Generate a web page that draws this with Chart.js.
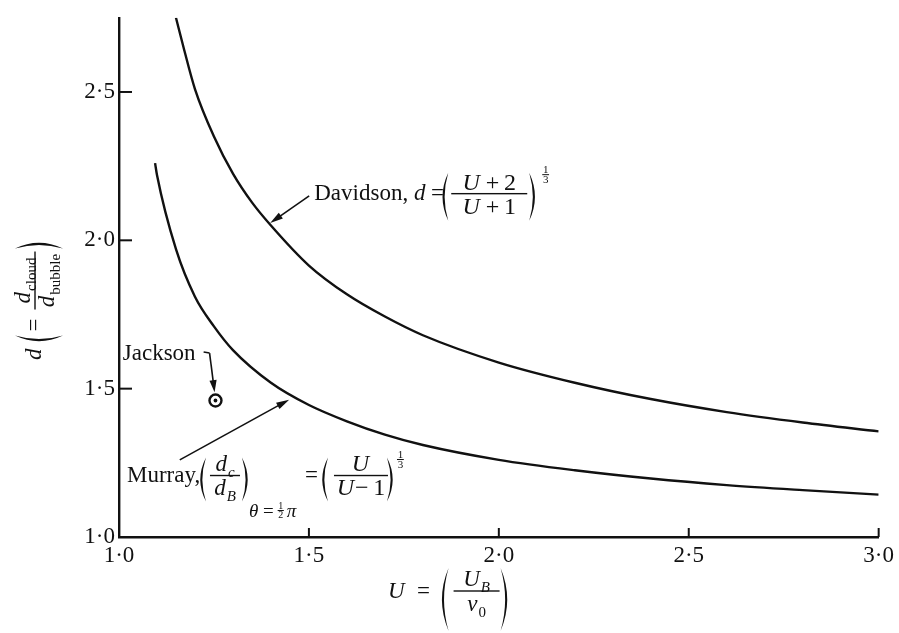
<!DOCTYPE html>
<html>
<head>
<meta charset="utf-8">
<script src="https://cdn.jsdelivr.net/npm/chart.js@4"></script>
<style>
  html, body { margin: 0; padding: 0; background: #fff; }
  #wrap { width: 899px; height: 633px; }
</style>
</head>
<body>
<div id="wrap"><canvas id="c" width="899" height="633"></canvas></div>
<script>
// Cloud-to-bubble diameter ratio d against relative bubble velocity U
const davidsonU = [1.15, 1.17, 1.2, 1.25, 1.3, 1.35, 1.4, 1.5, 1.6, 1.7, 1.8, 2.0, 2.2, 2.4, 2.6, 2.8, 3.0];
const davidsonD = [2.75, 2.65, 2.51, 2.35, 2.225, 2.128, 2.05, 1.915, 1.818, 1.743, 1.68, 1.588, 1.52, 1.465, 1.421, 1.386, 1.356];
const murrayU = [1.095, 1.1, 1.15, 1.2, 1.25, 1.3, 1.4, 1.5, 1.6, 1.7, 1.8, 2.0, 2.2, 2.4, 2.6, 2.8, 3.0];
const murrayD = [2.26, 2.22, 1.97, 1.81, 1.71, 1.63, 1.52, 1.445, 1.39, 1.345, 1.31, 1.26, 1.225, 1.197, 1.175, 1.158, 1.143];
const jacksonU = [1.254];
const jacksonD = [1.46];
const xTickValues = [1.0, 1.5, 2.0, 2.5, 3.0];
const yTickValues = [1.0, 1.5, 2.0, 2.5];

const INK = '#111';
const SERIF = '"Liberation Serif", "DejaVu Serif", "Times New Roman", serif';
const font = (size, italic) => (italic ? 'italic ' : '') + size + 'px ' + SERIF;
const fmt = v => v.toFixed(1).replace('.', '\u00B7');

const pairs = (xs, ys) => xs.map((x, i) => ({ x: x, y: ys[i] }));

// text runs: [text, style]; style 'r' roman, 'i' italic, 'sub' roman subscript, 'subi' italic subscript
function runs(ctx, x, y, parts, size, dry) {
  for (const [t, st] of parts) {
    let fs = size, dy = 0, it = (st === 'i' || st === 'subi');
    if (st === 'sub' || st === 'subi') { fs = Math.round(size * 0.64); dy = size * 0.28; }
    ctx.font = font(fs, it);
    if (!dry) ctx.fillText(t, x, y + dy);
    x += ctx.measureText(t).width + (st === 'i' ? 1 : 0);
  }
  return x;
}
function runsWidth(ctx, parts, size) { return runs(ctx, 0, 0, parts, size, true); }

// tall tapered parenthesis
function paren(ctx, x, top, bot, open, w) {
  w = w || 7;
  const mid = (top + bot) / 2;
  const s = open ? 1 : -1;
  const x0 = open ? x + w : x;
  const xc = x0 - s * w * 1.9;
  ctx.beginPath();
  ctx.moveTo(x0, top);
  ctx.quadraticCurveTo(xc, mid, x0, bot);
  ctx.quadraticCurveTo(xc + s * 4.2, mid, x0, top);
  ctx.fill();
}

// fraction centred at cx with its bar at barY
function fraction(ctx, cx, barY, num, den, size, barW, gapN, gapD) {
  const wn = runsWidth(ctx, num, size), wd = runsWidth(ctx, den, size);
  const bw = barW || Math.max(wn, wd) + 6;
  runs(ctx, cx - wn / 2, barY - (gapN || 5), num, size);
  runs(ctx, cx - wd / 2, barY + (gapD || size * 0.78), den, size);
  ctx.fillRect(cx - bw / 2, barY - 0.7, bw, 1.4);
  return bw;
}

// small stacked fraction such as the one-third exponent
function smallFrac(ctx, x, y, a, b, size) {
  size = size || 11;
  ctx.font = font(size, false);
  ctx.textAlign = 'center';
  const w = size * 0.62;
  ctx.fillText(a, x + w / 2, y);
  ctx.fillText(b, x + w / 2, y + size * 0.98);
  ctx.fillRect(x, y + 1.5, w, 1);
  ctx.textAlign = 'left';
}

function arrow(ctx, x1, y1, x2, y2, len, half) {
  const a = Math.atan2(y2 - y1, x2 - x1);
  ctx.beginPath();
  ctx.moveTo(x1, y1);
  ctx.lineTo(x2 - Math.cos(a) * len * 0.6, y2 - Math.sin(a) * len * 0.6);
  ctx.stroke();
  ctx.beginPath();
  ctx.moveTo(x2, y2);
  ctx.lineTo(x2 - Math.cos(a) * len - Math.sin(a) * half, y2 - Math.sin(a) * len + Math.cos(a) * half);
  ctx.lineTo(x2 - Math.cos(a) * len + Math.sin(a) * half, y2 - Math.sin(a) * len - Math.cos(a) * half);
  ctx.closePath();
  ctx.fill();
}

const decorations = {
  id: 'decorations',
  afterDraw(chart) {
    const ctx = chart.ctx;
    const xs = chart.scales.x, ys = chart.scales.y;
    const P = (u, d) => ({ x: xs.getPixelForValue(u), y: ys.getPixelForValue(d) });
    const area = chart.chartArea;
    ctx.save();
    ctx.fillStyle = INK;
    ctx.strokeStyle = INK;
    ctx.textBaseline = 'alphabetic';
    ctx.textAlign = 'left';

    // inward tick marks
    ctx.lineWidth = 2;
    xTickValues.forEach(v => {
      const px = xs.getPixelForValue(v);
      ctx.beginPath(); ctx.moveTo(px, area.bottom); ctx.lineTo(px, area.bottom - 9); ctx.stroke();
    });
    yTickValues.forEach(v => {
      const py = ys.getPixelForValue(v);
      ctx.beginPath(); ctx.moveTo(area.left, py); ctx.lineTo(area.left + 13, py); ctx.stroke();
    });

    // Jackson bullseye centre dot
    const jm = chart.getDatasetMeta(2).data[0];
    ctx.beginPath(); ctx.arc(jm.x, jm.y, 1.9, 0, Math.PI * 2); ctx.fill();

    // leader arrows
    ctx.lineWidth = 1.6;
    let t = P(1.5007, 2.15), h = P(1.398, 2.058);
    arrow(ctx, t.x, t.y, h.x, h.y, 13, 3.6);
    t = P(1.160, 1.26); h = P(1.448, 1.463);
    arrow(ctx, t.x, t.y, h.x, h.y, 13, 3.6);
    const j1 = P(1.2228, 1.6233), j2 = P(1.2385, 1.62), j3 = P(1.2516, 1.488);
    ctx.beginPath(); ctx.moveTo(j1.x, j1.y); ctx.lineTo(j2.x, j2.y); ctx.stroke();
    arrow(ctx, j2.x, j2.y, j3.x, j3.y, 12, 3.6);

    // Jackson label
    let a = P(1.010, 1.597);
    runs(ctx, a.x, a.y, [['Jackson', 'r']], 23);

    // Davidson label
    a = P(1.514, 2.137);
    let ax = a.x, ay = a.y;
    runs(ctx, ax, ay, [['Davidson, ', 'r'], ['d', 'i'], ['\u2009=', 'r']], 23);
    paren(ctx, ax + 128, ay - 27, ay + 21, true, 6);
    fraction(ctx, ax + 175, ay - 6, [['U', 'i'], ['\u2009+\u20092', 'r']], [['U', 'i'], ['\u2009+\u20091', 'r']], 24, 76, 4, 20);
    paren(ctx, ax + 215, ay - 27, ay + 21, false, 6);
    smallFrac(ctx, ax + 228, ay - 27, '1', '3', 11);

    // Murray label
    a = P(1.021, 1.187);
    ax = a.x; ay = a.y;
    runs(ctx, ax, ay, [['Murray,', 'r']], 23);
    paren(ctx, ax + 73, ay - 24, ay + 20, true, 6);
    fraction(ctx, ax + 98, ay - 6, [['d', 'i'], ['c', 'subi']], [['d', 'i'], ['B', 'subi']], 23, 30, 5, 19);
    paren(ctx, ax + 115, ay - 24, ay + 20, false, 6);
    // subscript θ = ½π
    let sx = runs(ctx, ax + 122, ay + 35, [['\u03B8', 'i'], ['\u2009=\u2009', 'r']], 19);
    smallFrac(ctx, sx, ay + 27, '1', '2', 10);
    runs(ctx, sx + 9, ay + 35, [['\u03C0', 'i']], 19);
    runs(ctx, ax + 178, ay, [['=', 'r']], 23);
    paren(ctx, ax + 195, ay - 24, ay + 20, true, 6);
    fraction(ctx, ax + 234, ay - 6, [['U', 'i']], [['U', 'i'], ['\u2212\u20091', 'r']], 24, 54, 5, 19);
    paren(ctx, ax + 260, ay - 24, ay + 20, false, 6);
    smallFrac(ctx, ax + 270, ay - 24, '1', '3', 11);

    // x-axis title: U = (U_B / v_0)
    const xb = area.bottom;
    let x = runs(ctx, 388, xb + 61, [['U', 'i'], ['\u2002=\u2002', 'r']], 23);
    paren(ctx, x, xb + 31, xb + 94, true, 7);
    fraction(ctx, x + 35, xb + 54, [['U', 'i'], ['B', 'subi']], [['v', 'i'], ['0', 'sub']], 23, 46, 5, 20);
    paren(ctx, x + 59, xb + 31, xb + 94, false, 7);

    // y-axis title, rotated: d (= d_cloud / d_bubble)
    ctx.save();
    ctx.translate(41, 360);
    ctx.rotate(-Math.PI / 2);
    x = runs(ctx, 0, 0, [['d', 'i']], 23);
    paren(ctx, x + 6, -26, 22, true, 6);
    x = runs(ctx, x + 16, 0, [['=', 'r']], 23);
    fraction(ctx, x + 38, -6, [['d', 'i'], ['cloud', 'sub']], [['d', 'i'], ['bubble', 'sub']], 23, 58, 5, 19);
    paren(ctx, x + 70, -26, 22, false, 6);
    ctx.restore();

    ctx.restore();
  }
};

const tickFont = { family: SERIF, size: 23 };

new Chart(document.getElementById('c'), {
  type: 'scatter',
  data: {
    datasets: [
      {
        label: 'Davidson',
        data: pairs(davidsonU, davidsonD),
        showLine: true,
        borderColor: INK,
        borderWidth: 2.4,
        pointRadius: 0,
        cubicInterpolationMode: 'monotone'
      },
      {
        label: 'Murray',
        data: pairs(murrayU, murrayD),
        showLine: true,
        borderColor: INK,
        borderWidth: 2.4,
        pointRadius: 0,
        cubicInterpolationMode: 'monotone'
      },
      {
        label: 'Jackson',
        data: pairs(jacksonU, jacksonD),
        showLine: false,
        pointStyle: 'circle',
        pointRadius: 6,
        borderWidth: 2.4,
        borderColor: INK,
        backgroundColor: '#fff'
      }
    ]
  },
  options: {
    responsive: false,
    devicePixelRatio: 1,
    animation: false,
    layout: { padding: { left: 0, right: 17, top: 12, bottom: 0 } },
    plugins: {
      legend: { display: false },
      tooltip: { enabled: false },
      title: { display: false }
    },
    scales: {
      x: {
        type: 'linear',
        min: 1.0,
        max: 3.0,
        afterBuildTicks: s => { s.ticks = xTickValues.map(v => ({ value: v })); },
        afterFit: s => { s.height = 96; },
        ticks: { font: tickFont, color: INK, padding: 5, callback: v => fmt(v), maxRotation: 0 },
        grid: { display: true, drawOnChartArea: false, drawTicks: false, tickLength: 0 },
        border: { display: true, color: INK, width: 2.4 }
      },
      y: {
        type: 'linear',
        min: 1.0,
        max: 2.75,
        afterBuildTicks: s => { s.ticks = yTickValues.map(v => ({ value: v })); },
        afterFit: s => { s.width = 119; },
        ticks: { font: tickFont, color: INK, padding: 4, callback: v => fmt(v) },
        grid: { display: true, drawOnChartArea: false, drawTicks: false, tickLength: 0 },
        border: { display: true, color: INK, width: 2.4 }
      }
    }
  },
  plugins: [decorations]
});
</script>
</body>
</html>
